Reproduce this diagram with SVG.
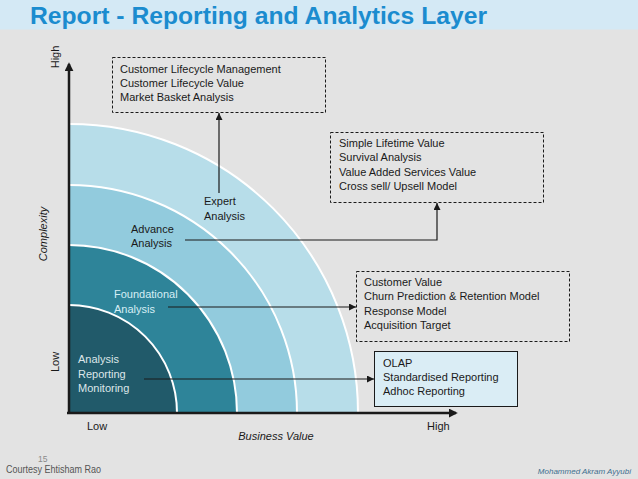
<svg xmlns="http://www.w3.org/2000/svg" width="638" height="479" viewBox="0 0 638 479">
<defs>
<style>
.t{font-family:"Liberation Sans",Arial,sans-serif;font-size:11px;fill:#1a1a1a}
.dash{fill:none;stroke:#1a1a1a;stroke-width:1;stroke-dasharray:3,2}
.con{fill:none;stroke:#1a1a1a;stroke-width:1.2}
.axis{fill:none;stroke:#1a1a1a;stroke-width:2.5}
.sep{fill:none;stroke:#ffffff;stroke-width:2}
</style>
<marker id="arr" viewBox="0 0 10 10" refX="10" refY="5" markerWidth="7" markerHeight="7" markerUnits="userSpaceOnUse" orient="auto">
<path d="M0,0 L10,5 L0,10 Z" fill="#1a1a1a"/>
</marker>
<marker id="axarr" viewBox="0 0 10 10" refX="8" refY="5" markerWidth="9" markerHeight="9" markerUnits="userSpaceOnUse" orient="auto">
<path d="M0,0 L10,5 L0,10 Z" fill="#1a1a1a"/>
</marker>
</defs>
<rect width="638" height="479" fill="#e3e3e3"/>
<rect width="638" height="29.5" fill="#d4e9f5"/>
<text x="30" y="24" textLength="457" lengthAdjust="spacingAndGlyphs" style="font-family:'Liberation Sans',Arial,sans-serif;font-size:23.5px;font-weight:bold;fill:#1b8ccf">Report - Reporting and Analytics Layer</text>

<g id="rings">
<path d="M69,413 V124 A289,289 0 0 1 358,413 Z" fill="#b7dde9"/>
<path d="M69,413 V185 A228,228 0 0 1 297,413 Z" fill="#92cbdd"/>
<path d="M69,413 V245 A168,168 0 0 1 237,413 Z" fill="#2e8499"/>
<path d="M69,413 V305 A108,108 0 0 1 177,413 Z" fill="#215a6a"/>
<path class="sep" d="M69,124 A289,289 0 0 1 358,413"/>
<path class="sep" d="M69,185 A228,228 0 0 1 297,413"/>
<path class="sep" d="M69,245 A168,168 0 0 1 237,413"/>
<path class="sep" d="M69,305 A108,108 0 0 1 177,413"/>
</g>

<g id="axes">
<path class="axis" d="M69,413 V64" marker-end="url(#axarr)"/>
<path class="axis" d="M67,413 H456" marker-end="url(#axarr)"/>
<text class="t" transform="translate(59,57) rotate(-90)" text-anchor="middle">High</text>
<text class="t" transform="translate(47,234) rotate(-90)" text-anchor="middle" font-style="italic">Complexity</text>
<text class="t" transform="translate(59,362) rotate(-90)" text-anchor="middle">Low</text>
<text class="t" x="87" y="430">Low</text>
<text class="t" x="427" y="430">High</text>
<text class="t" x="276" y="440" text-anchor="middle" font-style="italic">Business Value</text>
</g>

<g id="node-analysis">
<text class="t" x="78" y="363" style="fill:#dde6e9">Analysis</text>
<text class="t" x="78" y="378" style="fill:#dde6e9">Reporting</text>
<text class="t" x="78" y="392" style="fill:#dde6e9">Monitoring</text>
</g>
<g id="node-foundational">
<text class="t" x="114" y="298" style="fill:#d6eef5">Foundational</text>
<text class="t" x="114" y="313" style="fill:#d6eef5">Analysis</text>
</g>
<g id="node-advance">
<text class="t" x="131" y="233">Advance</text>
<text class="t" x="131" y="247">Analysis</text>
</g>
<g id="node-expert">
<text class="t" x="204" y="205">Expert</text>
<text class="t" x="204" y="220">Analysis</text>
</g>

<g id="box-lifecycle">
<rect class="dash" x="112.5" y="57.5" width="213" height="55"/>
<text class="t" x="120" y="73">Customer Lifecycle Management</text>
<text class="t" x="120" y="87">Customer Lifecycle Value</text>
<text class="t" x="120" y="101">Market Basket Analysis</text>
</g>
<g id="box-lifetime">
<rect class="dash" x="330.5" y="132.5" width="213" height="70"/>
<text class="t" x="339" y="147">Simple Lifetime Value</text>
<text class="t" x="339" y="161">Survival Analysis</text>
<text class="t" x="339" y="176">Value Added Services Value</text>
<text class="t" x="339" y="190">Cross sell/ Upsell Model</text>
</g>
<g id="box-customer">
<rect class="dash" x="356.5" y="271.5" width="213" height="70"/>
<text class="t" x="364" y="286">Customer Value</text>
<text class="t" x="364" y="300">Churn Prediction &amp; Retention Model</text>
<text class="t" x="364" y="315">Response Model</text>
<text class="t" x="364" y="329">Acquisition Target</text>
</g>
<g id="box-olap">
<rect x="374.5" y="351.5" width="143" height="55" fill="#daedf5" stroke="#1a1a1a" stroke-width="1"/>
<text class="t" x="383" y="367">OLAP</text>
<text class="t" x="383" y="381">Standardised Reporting</text>
<text class="t" x="383" y="395">Adhoc Reporting</text>
</g>

<g id="connectors">
<path class="con" d="M219,193 V113" marker-end="url(#arr)"/>
<path class="con" d="M185,240 H437 V203" marker-end="url(#arr)"/>
<path class="con" d="M168,307 H356" marker-end="url(#arr)"/>
<path class="con" d="M144,379 H374" marker-end="url(#arr)"/>
</g>

<g id="footer">
<text x="38" y="462" style="font-family:'Liberation Sans',Arial,sans-serif;font-size:8.5px;fill:#8a8a8a">15</text>
<text x="6" y="473" textLength="95" lengthAdjust="spacingAndGlyphs" style="font-family:'Liberation Sans',Arial,sans-serif;font-size:10.5px;fill:#555555">Courtesy Ehtisham Rao</text>
<text x="631" y="474" text-anchor="end" style="font-family:'Liberation Sans',Arial,sans-serif;font-size:8px;font-style:italic;fill:#3d6f8f">Mohammed Akram Ayyubi</text>
</g>
</svg>
